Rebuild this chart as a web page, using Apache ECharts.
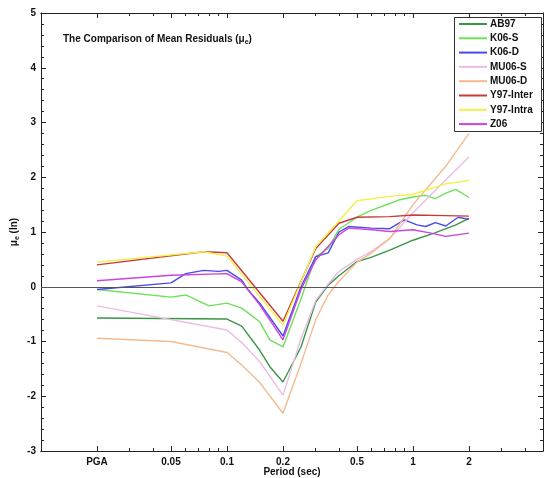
<!DOCTYPE html>
<html><head><meta charset="utf-8">
<script src="https://cdn.jsdelivr.net/npm/echarts@6/dist/echarts.min.js"></script>
<style>html,body{margin:0;padding:0;background:#fff}#c{width:544px;height:478px}</style>
</head><body><div id="c"></div>
<script>
// ---- data (periods in seconds; PGA plotted at 0.02 s) ----
const seriesNames = ['AB97','K06-S','K06-D','MU06-S','MU06-D','Y97-Inter','Y97-Intra','Z06'];
const seriesColors = ['#3a9646','#6ee05a','#4a4ae8','#ebbde4','#f2ba8e','#c83a3a','#f2f046','#cc44dd'];

const periodsAB97 = [0.02,0.1,0.12,0.15,0.17,0.2,0.25,0.3,0.35,0.4,0.5,0.6,0.75,1.0,1.3,1.7,2.0];
const valuesAB97  = [-0.57,-0.59,-0.72,-1.16,-1.46,-1.74,-1.1,-0.28,0.03,0.2,0.46,0.54,0.67,0.85,0.98,1.13,1.25];

const periodsK06S = [0.02,0.05,0.06,0.08,0.1,0.12,0.15,0.17,0.2,0.25,0.3,0.35,0.4,0.5,0.6,0.75,0.85,1.0,1.17,1.32,1.5,1.7,2.0];
const valuesK06S  = [-0.05,-0.19,-0.15,-0.35,-0.30,-0.39,-0.64,-0.97,-1.10,-0.22,0.55,0.70,1.05,1.27,1.40,1.52,1.59,1.64,1.67,1.61,1.71,1.78,1.63];

const periodsK06D = [0.02,0.05,0.06,0.075,0.09,0.1,0.12,0.13,0.15,0.2,0.25,0.3,0.35,0.4,0.45,0.6,0.75,0.9,1.05,1.17,1.32,1.5,1.75,2.0];
const valuesK06D  = [-0.05,0.07,0.24,0.30,0.28,0.30,0.12,-0.06,-0.30,-0.90,0.0,0.55,0.62,1.0,1.10,1.07,1.06,1.22,1.13,1.10,1.17,1.11,1.27,1.23];

const periodsMU06S = [0.02,0.1,0.12,0.15,0.2,0.25,0.3,0.35,0.4,0.5,0.6,0.75,1.0,1.5,2.0];
const valuesMU06S  = [-0.35,-0.79,-1.02,-1.37,-1.98,-0.95,-0.25,0.05,0.28,0.5,0.65,0.88,1.35,1.95,2.37];

const periodsMU06D = [0.02,0.05,0.1,0.12,0.15,0.2,0.25,0.3,0.35,0.4,0.5,0.6,0.75,1.0,1.5,2.0];
const valuesMU06D  = [-0.94,-1.0,-1.2,-1.43,-1.75,-2.31,-1.4,-0.6,-0.15,0.1,0.45,0.62,0.88,1.5,2.2,2.8];

const periodsY97 = [0.02,0.075,0.1,0.2,0.3,0.4,0.5,0.75,1.0,1.5,2.0];
const valuesY97Inter = [0.40,0.64,0.62,-0.63,0.70,1.16,1.27,1.28,1.31,1.30,1.29];
const valuesY97Intra = [0.45,0.64,0.56,-0.70,0.73,1.20,1.57,1.65,1.69,1.88,1.94];

const periodsZ06 = [0.02,0.05,0.1,0.12,0.15,0.2,0.25,0.3,0.4,0.45,0.6,0.75,1.0,1.25,1.5,2.0];
const valuesZ06  = [0.11,0.21,0.24,0.09,-0.33,-0.97,-0.05,0.49,0.95,1.07,1.04,1.01,1.04,0.98,0.92,0.98];

const xTickPeriods = [0.02,0.05,0.1,0.2,0.5,1,2];
const xTickLabels  = ['PGA','0.05','0.1','0.2','0.5','1','2'];
const xMinorPeriods = [0.03,0.04,0.06,0.07,0.08,0.09,0.3,0.4,0.6,0.7,0.8,0.9,3,4];
const xMinPeriod = 0.01, xMaxPeriod = 5;
const yMin = -3, yMax = 5;

// ---- build ----
const periodSets = [periodsAB97,periodsK06S,periodsK06D,periodsMU06S,periodsMU06D,periodsY97,periodsY97,periodsZ06];
const valueSets  = [valuesAB97,valuesK06S,valuesK06D,valuesMU06S,valuesMU06D,valuesY97Inter,valuesY97Intra,valuesZ06];
const lg = v => Math.log10(v);
const FONT = '"Liberation Sans", Arial, sans-serif';
const AX = '#222';

const majorX = xTickPeriods.map(lg);
const minorX = xMinorPeriods.map(lg);
const gridBox = {left: 41, right: 1, top: 13, bottom: 27, containLabel: false, outerBoundsMode: 'none'};

function xAxisDef(gridIndex, position, ticks, len, labels) {
  return {
    type: 'value', gridIndex, position, min: lg(xMinPeriod), max: lg(xMaxPeriod),
    axisLine: {show: true, onZero: false, lineStyle: {color: AX, width: 1}},
    axisTick: {show: true, inside: true, length: len, customValues: ticks, lineStyle: {color: AX}},
    axisLabel: labels ? {
      show: true, customValues: majorX, margin: 6, color: '#111', fontSize: 10, fontWeight: 'bold', fontFamily: FONT,
      formatter: v => { const i = majorX.findIndex(t => Math.abs(t - v) < 1e-6); return i >= 0 ? xTickLabels[i] : ''; }
    } : {show: false},
    splitLine: {show: false},
    name: labels ? 'Period (sec)' : '', nameLocation: 'middle', nameGap: 16, nameMoveOverlap: false,
    nameTextStyle: {fontSize: 10, fontWeight: 'bold', color: '#111', fontFamily: FONT, verticalAlign: 'top'}
  };
}

const series = seriesNames.map((name, k) => ({
  name, type: 'line', xAxisIndex: 0, yAxisIndex: 0,
  data: periodSets[k].map((p, i) => [lg(p), valueSets[k][i]]),
  symbol: 'none', showSymbol: false, smooth: false, color: seriesColors[k],
  lineStyle: {width: 1.4, color: seriesColors[k]},
  z: 2 + k * 0.01
}));
series[0].markLine = {
  silent: true, symbol: ['none','none'], label: {show: false},
  lineStyle: {color: '#555', width: 1.2, type: 'solid'},
  data: [{yAxis: 0}]
};

const option = {
  animation: false,
  backgroundColor: '#fff',
  grid: [Object.assign({}, gridBox), Object.assign({}, gridBox)],
  xAxis: [
    xAxisDef(0, 'bottom', majorX, 5, true),
    xAxisDef(0, 'top', majorX, 5, false),
    xAxisDef(1, 'bottom', minorX, 3, false),
    xAxisDef(1, 'top', minorX, 3, false)
  ],
  yAxis: [
    {
      type: 'value', gridIndex: 0, position: 'left', min: yMin, max: yMax, interval: 1,
      axisLine: {show: true, onZero: false, lineStyle: {color: AX}},
      axisTick: {show: true, inside: true, length: 5, lineStyle: {color: AX}},
      minorTick: {show: true, splitNumber: 5, length: 3, lineStyle: {color: AX}},
      axisLabel: {margin: 5, color: '#111', fontSize: 10, fontWeight: 'bold', fontFamily: FONT},
      splitLine: {show: false},
      name: '{a|μ}{s|e}{a| (ln)}', nameLocation: 'middle', nameGap: 20, nameMoveOverlap: false,
      nameTextStyle: {color: '#111', fontFamily: FONT, rich: {
        a: {fontSize: 10, fontWeight: 'bold', fontFamily: FONT, color: '#111', lineHeight: 14, verticalAlign: 'middle'},
        s: {fontSize: 7, fontWeight: 'bold', fontFamily: FONT, color: '#111', lineHeight: 7, verticalAlign: 'bottom'}
      }}
    },
    {
      type: 'value', gridIndex: 0, position: 'right', min: yMin, max: yMax, interval: 1,
      axisLine: {show: true, onZero: false, lineStyle: {color: AX}},
      axisTick: {show: true, inside: true, length: 5, lineStyle: {color: AX}},
      minorTick: {show: true, splitNumber: 5, length: 3, lineStyle: {color: AX}},
      axisLabel: {show: false}, splitLine: {show: false}
    },
    {type: 'value', gridIndex: 1, min: yMin, max: yMax, show: false}
  ],
  title: {
    text: '{b|The Comparison of Mean Residuals (μ}{s|e}{b|)}',
    left: 58, top: 27,
    textStyle: {rich: {
      b: {fontSize: 10, fontWeight: 'bold', fontFamily: FONT, color: '#111', lineHeight: 14, verticalAlign: 'middle'},
      s: {fontSize: 7, fontWeight: 'bold', fontFamily: FONT, color: '#111', lineHeight: 7, verticalAlign: 'bottom'}
    }}
  },
  graphic: [{
    type: 'rect', z: 50, silent: true,
    shape: {x: 454.5, y: 17.5, width: 87, height: 114},
    style: {fill: '#fff', stroke: '#333', lineWidth: 1}
  }],
  legend: {
    z: 60, orient: 'vertical', left: 458, top: 19, padding: 0,
    itemWidth: 28, itemHeight: 10, itemGap: 4.3,
    data: seriesNames,
    itemStyle: {opacity: 0},
    textStyle: {fontSize: 10, fontWeight: 'bold', fontFamily: FONT, color: '#111', padding: [0,0,0,-2]},
    selectedMode: false
  },
  series
};

const chart = echarts.init(document.getElementById('c'), null, {renderer: 'canvas'});
chart.setOption(option);
</script>
</body></html>
